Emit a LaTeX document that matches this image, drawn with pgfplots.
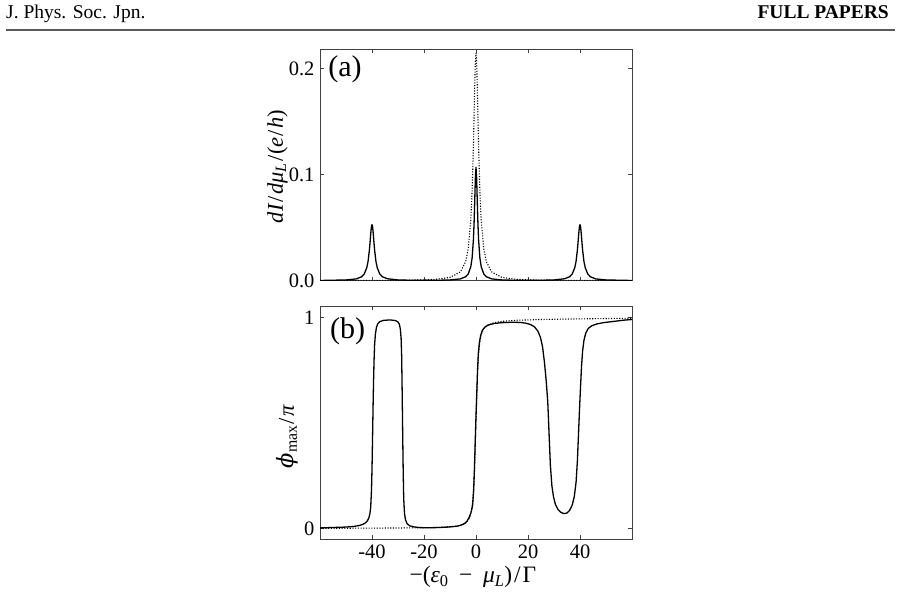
\documentclass[border=0pt]{standalone}
\usepackage{fontspec}
\setmainfont{Liberation Serif}
\newfontfamily\dvserif{DejaVu Serif}
\usepackage{pgfplots}
\usepackage{pgfplotstable}
\pgfplotsset{compat=1.18}

\pgfplotstableread{
x y
-60 0.0002
-50 0.0007
-46 0.0017
-44 0.0037
-43 0.0063
-42 0.0123
-41.5 0.0185
-41 0.0290
-40.75 0.0362
-40.5 0.0439
-40.25 0.0504
-40 0.0530
-39.75 0.0504
-39.5 0.0439
-39.25 0.0362
-39 0.0290
-38.5 0.0185
-38 0.0123
-37 0.0063
-36 0.0037
-34 0.0018
-30 0.0007
-25 0.0004
-20 0.0003
-15 0.0004
-10 0.0007
-6 0.0017
-4 0.0037
-3 0.0063
-2 0.0132
-1.5 0.0214
-1 0.0385
-0.75 0.0535
-0.5 0.0741
-0.25 0.0963
0 0.107
0.25 0.0963
0.5 0.0741
0.75 0.0535
1 0.0385
1.5 0.0214
2 0.0132
3 0.0063
4 0.0037
6 0.0017
10 0.0007
15 0.0004
20 0.0003
25 0.0004
30 0.0007
34 0.0018
36 0.0037
37 0.0063
38 0.0123
38.5 0.0185
39 0.0290
39.25 0.0362
39.5 0.0439
39.75 0.0504
40 0.0530
40.25 0.0504
40.5 0.0439
40.75 0.0362
41 0.0290
41.5 0.0185
42 0.0123
43 0.0063
44 0.0037
46 0.0017
50 0.0007
60 0.0002
}\dIsolid

\pgfplotstableread{
x y
-60 0.0001
-40 0.0002
-30 0.0003
-20 0.0008
-15 0.0014
-10 0.0031
-6 0.0083
-4 0.0178
-3 0.0297
-2 0.0569
-1.5 0.0839
-1 0.1269
-0.75 0.1546
-0.5 0.1832
-0.25 0.2061
0 0.2150
0.25 0.2061
0.5 0.1832
0.75 0.1546
1 0.1269
1.5 0.0839
2 0.0569
3 0.0297
4 0.0178
6 0.0083
10 0.0031
15 0.0014
20 0.0008
30 0.0003
40 0.0002
60 0.0001
}\dIdot

\pgfplotstableread{
x y
-60 0.002
-55 0.004
-50 0.006
-47 0.009
-45 0.013
-43.5 0.019
-42.5 0.026
-41.8 0.035
-41.2 0.05
-40.8 0.07
-40.5 0.1
-40.2 0.18
-40 0.28
-39.8 0.42
-39.6 0.57
-39.4 0.7
-39.2 0.8
-39 0.87
-38.7 0.92
-38.3 0.952
-37.8 0.97
-37 0.98
-35.5 0.986
-33 0.988
-31 0.985
-30 0.978
-29.5 0.968
-29.1 0.945
-28.8 0.9
-28.6 0.82
-28.4 0.65
-28.2 0.45
-28 0.27
-27.8 0.14
-27.5 0.07
-27.1 0.04
-26.5 0.022
-25.5 0.012
-24 0.007
-22 0.004
-20 0.003
-17 0.003
-14 0.004
-11 0.006
-8 0.009
-6 0.014
-4.5 0.022
-3.5 0.033
-2.5 0.055
-1.8 0.08
-1.3 0.11
-0.9 0.18
-0.6 0.28
-0.3 0.41
0 0.53
0.3 0.64
0.6 0.75
0.9 0.83
1.3 0.88
1.8 0.915
2.5 0.94
3.5 0.955
5 0.965
7 0.971
10 0.975
14 0.977
17 0.976
19 0.973
21 0.966
22.5 0.955
23.8 0.935
24.8 0.905
25.6 0.86
26.3 0.79
27 0.7
27.6 0.6
28.1 0.45
28.6 0.3
29.2 0.2
29.8 0.15
30.5 0.115
31.5 0.09
32.5 0.077
33.5 0.071
34.2 0.07
35 0.073
36 0.085
37 0.11
37.8 0.15
38.5 0.22
39 0.32
39.4 0.44
39.8 0.56
40.2 0.67
40.6 0.77
41 0.84
41.5 0.89
42.2 0.925
43.2 0.948
44.5 0.96
46.5 0.969
49 0.975
53 0.981
57 0.987
60 0.99
}\phisolid

\pgfplotstableread{
x y
-60 0.0
-40 0.001
-25 0.002
-15 0.004
-10 0.007
-7 0.011
-5 0.018
-3.8 0.027
-2.8 0.042
-2 0.07
-1.4 0.11
-1 0.17
-0.6 0.28
-0.3 0.4
0 0.52
0.3 0.64
0.6 0.74
1 0.83
1.5 0.89
2 0.92
3 0.947
4.5 0.963
7 0.975
10 0.981
15 0.986
25 0.99
40 0.993
60 0.996
}\phidot

\pgfplotsset{
  panel/.style={
    scale only axis,
    width=312pt,
    xmin=-60, xmax=60,
    xtick={-40,-20,0,20,40},
    tick align=inside,
    major tick length=4pt,
    axis line style={black!75, line width=0.8pt},
    every tick/.style={black!75, line width=0.7pt},
    ticklabel style={font=\fontsize{20.5}{21}\selectfont},
    /pgf/number format/assume math mode=true,
    xticklabel style={yshift=-2pt},
    yticklabel style={xshift=-2pt},
    label style={font=\fontsize{22.5}{23}\selectfont},
  },
  solidc/.style={black, line width=1.3pt, line join=round},
  dotc/.style={black, line width=1.1pt, dash pattern=on 1.1pt off 1.6pt},
}

\begin{document}
\begin{tikzpicture}[x=1pt,y=1pt]
\path[use as bounding box] (0,0) rectangle (902,594);

\node[anchor=base west, inner sep=0pt, font=\fontsize{19.5}{20}\selectfont] at (6,575.5) {J. Phys. Soc. Jpn.};
\node[anchor=base east, inner sep=0pt, font=\fontsize{19.5}{20}\selectfont\bfseries] at (889,575) {FULL PAPERS};
\draw[line width=1.3pt, black!65] (6,564) -- (895,564);

\begin{axis}[panel,
  at={(320pt,313.3pt)}, anchor=south west,
  height=231.7pt,
  ymin=0, ymax=0.2186,
  ytick={0,0.1,0.2},
  yticklabels={0.0,0.1,0.2},
  xticklabels={},
  ylabel={\textit{dI}\kern0.05em/\kern0.05em\textit{dμ}\textsubscript{\textit{L}}\kern0.05em/\kern0.05em(\textit{e}\kern0.05em/\kern0.05em\textit{h})},
  ylabel style={at={(axis description cs:-0.136,0.493)}, anchor=center},
]
\addplot[dotc] table[x=x,y=y] {\dIdot};
\addplot[solidc] table[x=x,y=y] {\dIsolid};
\node[anchor=north west, inner sep=0pt, font=\fontsize{30}{30}\selectfont] at (axis description cs:0.026,0.97) {(a)};
\end{axis}

\begin{axis}[panel,
  at={(320pt,54.7pt)}, anchor=south west,
  height=233.3pt,
  ymin=-0.052, ymax=1.054,
  ytick={0,1},
  yticklabels={0,1},
  xticklabels={-40,-20,0,20,40},
  ylabel={{\dvserif\itshape ϕ}\textsubscript{max}\kern0.05em/\kern0.05em\textit{π}},
  ylabel style={at={(axis description cs:-0.104,0.44)}, anchor=center},
  xlabel={−(\textit{ε}\textsubscript{0}\hspace{0.45em}−\hspace{0.45em}\textit{μ}\textsubscript{\textit{L}})\kern0.08em/\kern0.08emΓ},
  xlabel style={at={(axis description cs:0.49,-0.162)}, anchor=center, font=\fontsize{23.5}{24}\selectfont},
]
\addplot[dotc] table[x=x,y=y] {\phidot};
\addplot[solidc] table[x=x,y=y] {\phisolid};
\node[anchor=north west, inner sep=0pt, font=\fontsize{30}{30}\selectfont] at (axis description cs:0.032,0.95) {(b)};
\end{axis}
\end{tikzpicture}
\end{document}
